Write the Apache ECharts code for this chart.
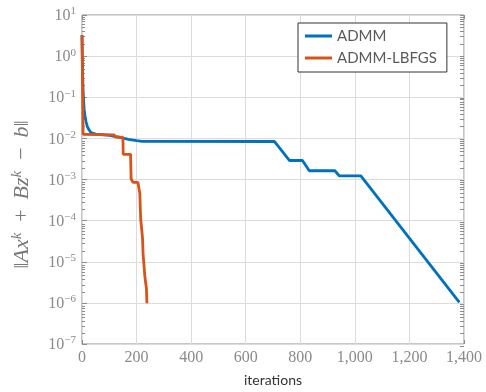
<!DOCTYPE html>
<html>
<head>
<meta charset="utf-8">
<script src="https://cdn.jsdelivr.net/npm/echarts@6/dist/echarts.min.js"></script>
<style>
  html, body { margin: 0; padding: 0; background: #fff; }
  #chart { width: 486px; height: 392px; }
</style>
</head>
<body>
<div id="chart"></div>
<script>
// ADMM residual vs. iterations
const admmIter = [0, 2, 4, 6, 8, 11, 15, 20, 26, 33, 50, 100, 140, 170, 200, 220, 705, 760, 808, 833, 927, 943, 1022, 1383];
const admmRes = [3.2, 0.4, 0.15, 0.08, 0.05, 0.035, 0.025, 0.019, 0.016, 0.0138, 0.0127, 0.0118, 0.0106, 0.0095, 0.0088, 0.0085, 0.0084, 0.0029, 0.0029, 0.00163, 0.00163, 0.00122, 0.00122, 0.00000103];

// ADMM-LBFGS residual vs. iterations
const lbfgsIter = [0, 4, 60, 118, 122, 150, 151, 178, 180, 187, 205, 212, 215, 218, 222, 224, 227, 230, 233, 236, 238];
const lbfgsRes = [3.2, 0.0126, 0.0124, 0.0122, 0.0108, 0.0106, 0.0041, 0.0041, 0.00103, 0.00085, 0.00085, 0.00045, 0.00011, 0.00007, 0.000036, 0.0000144, 0.0000085, 0.0000047, 0.0000032, 0.0000023, 0.00000098];

const xGrid = [200, 400, 600, 800, 1000, 1200];
const yDecades = [1e-7, 1e-6, 1e-5, 1e-4, 1e-3, 1e-2, 1e-1, 1e0, 1e1];

const yMinor = [];
for (let n = -7; n <= 0; n++) {
  for (let k = 2; k <= 9; k++) yMinor.push(k * Math.pow(10, n));
}

const pair = (xs, ys) => xs.map((x, i) => [x, ys[i]]);

const serif = '"Liberation Serif", "DejaVu Serif", serif';
const sans = 'Lato, "Open Sans", sans-serif';
const tickColor = '#8a8a8a';
const boxColor = '#8c8c8c';
const gridColor = '#dcdcdc';

const plotBox = { left: 82, right: 22, top: 15, bottom: 46 };

const logAxisBase = {
  type: 'log',
  logBase: 10,
  min: 1e-7,
  max: 10
};

const chart = echarts.init(document.getElementById('chart'));
chart.setOption({
  animation: false,
  grid: [
    Object.assign({}, plotBox, {
      show: true,
      borderColor: boxColor,
      borderWidth: 1,
      backgroundColor: 'transparent'
    }),
    // overlay grid that only carries the extra tick marks
    Object.assign({}, plotBox, { show: false })
  ],
  legend: {
    orient: 'vertical',
    left: 298,
    top: 23,
    z: 10,
    backgroundColor: '#fff',
    borderColor: '#333',
    borderWidth: 1,
    borderRadius: 0,
    padding: [4, 10, 5, 7],
    itemGap: 4,
    itemWidth: 27,
    itemHeight: 3,
    icon: 'rect',
    textStyle: { fontFamily: sans, fontSize: 15, color: '#5a5a5a', lineHeight: 18 },
    data: ['ADMM', 'ADMM-LBFGS']
  },
  xAxis: [
    {
      gridIndex: 0,
      type: 'value',
      min: 0,
      max: 1400,
      interval: 200,
      name: 'iterations',
      nameLocation: 'middle',
      nameGap: 29,
      nameTextStyle: { fontFamily: sans, fontSize: 14, color: '#333' },
      axisLine: { show: false },
      axisTick: { show: true, inside: true, length: 4, lineStyle: { color: boxColor } },
      axisLabel: {
        margin: 6,
        fontFamily: serif,
        fontSize: 16,
        color: tickColor,
        formatter: v => v.toLocaleString('en-US')
      },
      splitLine: { show: true, lineStyle: { color: gridColor, width: 1 } }
    },
    {
      gridIndex: 1,
      type: 'value',
      min: 0,
      max: 1400,
      interval: 200,
      position: 'top',
      axisLine: { show: false },
      axisTick: { show: true, inside: true, length: 4, lineStyle: { color: boxColor } },
      axisLabel: { show: false },
      splitLine: { show: false }
    }
  ],
  yAxis: [
    Object.assign({}, logAxisBase, {
      gridIndex: 0,
      position: 'left',
      name: '‖{i|Ax}{s|k} \u2009+\u2009 {i|Bz}{s|k} \u2009−\u2009 {i|b}‖',
      nameLocation: 'middle',
      nameRotate: 90,
      nameGap: 48,
      nameTextStyle: {
        fontFamily: serif,
        fontSize: 22,
        color: '#777',
        padding: [0, 30, 0, 0],
        rich: {
          i: { fontFamily: serif, fontStyle: 'italic', fontSize: 22, color: '#777' },
          s: { fontFamily: serif, fontStyle: 'italic', fontSize: 15, color: '#777', verticalAlign: 'top', padding: [0, 1, 9, 0] }
        }
      },
      axisLine: { show: false },
      axisTick: { show: true, inside: true, length: 5, customValues: yDecades, lineStyle: { color: boxColor } },
      axisLabel: {
        margin: 6,
        customValues: yDecades,
        formatter: v => {
          const e = Math.round(Math.log10(v));
          return '{b|10}{s|' + (e < 0 ? '−' + (-e) : e) + '}';
        },
        rich: {
          b: { fontFamily: serif, fontSize: 16, color: tickColor, verticalAlign: 'bottom' },
          s: { fontFamily: serif, fontSize: 11, color: tickColor, verticalAlign: 'top', padding: [0, 0, 7, 0] }
        }
      },
      splitLine: { show: true, lineStyle: { color: gridColor, width: 1 } }
    }),
    Object.assign({}, logAxisBase, {
      gridIndex: 1,
      position: 'left',
      axisLine: { show: false },
      axisTick: { show: true, inside: true, length: 3, customValues: yMinor, lineStyle: { color: boxColor } },
      axisLabel: { show: false },
      splitLine: { show: false }
    }),
    Object.assign({}, logAxisBase, {
      gridIndex: 1,
      position: 'right',
      axisLine: { show: false },
      axisTick: { show: true, inside: true, length: 4, customValues: yDecades.concat(yMinor), lineStyle: { color: boxColor } },
      axisLabel: { show: false },
      splitLine: { show: false }
    })
  ],
  series: [
    {
      // carrier for the vertical grid lines
      name: 'xgrid',
      type: 'line',
      xAxisIndex: 0,
      yAxisIndex: 0,
      data: [],
      z: 1,
      silent: true,
      markLine: {
        z: 1,
        silent: true,
        animation: false,
        symbol: ['none', 'none'],
        label: { show: false },
        emphasis: { disabled: true },
        lineStyle: { type: 'solid', color: gridColor, width: 1 },
        data: xGrid.map(v => ({ xAxis: v }))
      }
    },
    {
      name: 'ADMM',
      type: 'line',
      xAxisIndex: 0,
      yAxisIndex: 0,
      data: pair(admmIter, admmRes),
      showSymbol: false,
      symbol: 'none',
      lineStyle: { color: '#0072BD', width: 2.8 },
      itemStyle: { color: '#0072BD' },
      z: 6
    },
    {
      name: 'ADMM-LBFGS',
      type: 'line',
      xAxisIndex: 0,
      yAxisIndex: 0,
      data: pair(lbfgsIter, lbfgsRes),
      showSymbol: false,
      symbol: 'none',
      lineStyle: { color: '#D95319', width: 2.8 },
      itemStyle: { color: '#D95319' },
      z: 7
    }
  ]
});
</script>
</body>
</html>
